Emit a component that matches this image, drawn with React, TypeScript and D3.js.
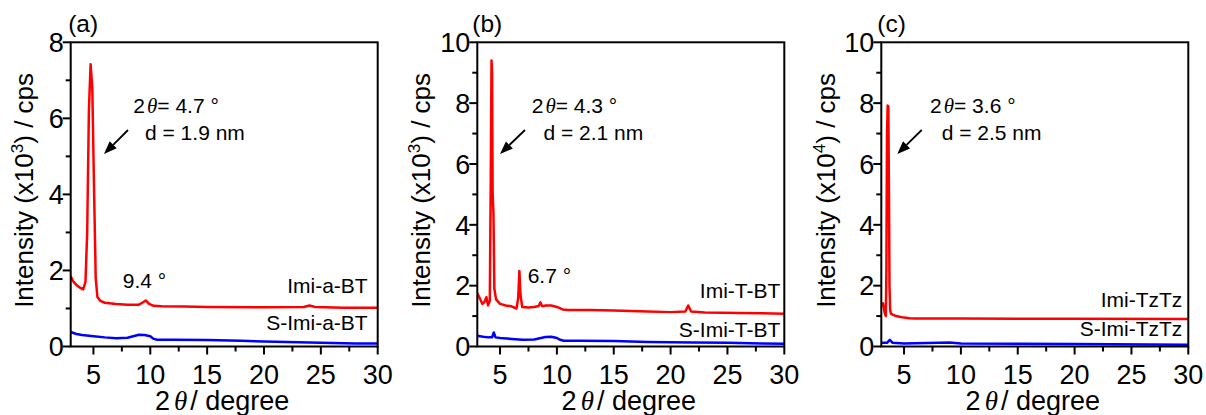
import * as d3 from "d3";
import React from "react";

const W = 1206;
const H = 415;
const TOP = 42.3;
const BOTTOM = 346.5;
const PW = 307;
const FONT = "'Liberation Sans', Arial, sans-serif";
const SERIF = "'Liberation Serif', 'Times New Roman', serif";

// 2θ values (degree) and intensities
const aImiX = [3.0, 3.2, 3.5, 3.8, 4.1, 4.3, 4.45, 4.6, 4.75, 4.9, 5.05, 5.2, 5.35, 5.6, 6.0, 7.0, 8.0, 9.0, 9.3, 9.6, 9.9, 10.3, 11, 13, 15, 20, 23.5, 24, 24.5, 27, 30];
const aImiY = [1.85, 1.72, 1.62, 1.55, 1.5, 1.7, 3.0, 6.2, 7.42, 6.8, 4.2, 1.8, 1.3, 1.2, 1.15, 1.12, 1.1, 1.1, 1.15, 1.21, 1.12, 1.07, 1.06, 1.05, 1.04, 1.03, 1.04, 1.08, 1.04, 1.02, 1.02];
const aSX = [3.0, 3.5, 4, 5, 6, 7, 8, 8.5, 9, 9.5, 10, 10.3, 10.6, 12, 15, 18, 20, 22, 25, 28, 30];
const aSY = [0.38, 0.33, 0.3, 0.27, 0.24, 0.22, 0.23, 0.27, 0.31, 0.3, 0.27, 0.2, 0.18, 0.18, 0.17, 0.15, 0.13, 0.12, 0.1, 0.08, 0.08];

const bImiX = [3.0, 3.2, 3.45, 3.6, 3.8, 3.95, 4.1, 4.18, 4.25, 4.3, 4.35, 4.42, 4.5, 4.65, 5.0, 5.5, 6.0, 6.45, 6.6, 6.7, 6.8, 6.95, 7.5, 8.0, 8.4, 8.55, 8.7, 9.0, 9.5, 10.0, 10.5, 11, 13, 15, 18, 20, 21.3, 21.55, 21.8, 23, 26, 30];
const bImiY = [1.75, 1.6, 1.4, 1.45, 1.62, 1.35, 1.5, 5.3, 9.4, 9.0, 5.0, 4.4, 1.9, 1.55, 1.4, 1.35, 1.32, 1.25, 1.6, 2.48, 1.7, 1.3, 1.28, 1.3, 1.33, 1.45, 1.32, 1.35, 1.35, 1.3, 1.22, 1.2, 1.2, 1.18, 1.15, 1.13, 1.15, 1.35, 1.15, 1.12, 1.1, 1.08];
const bSX = [3.0, 3.5, 4.0, 4.3, 4.45, 4.6, 5, 6, 7, 8, 8.5, 9, 9.5, 10, 10.3, 10.6, 12, 15, 18, 20, 22, 25, 28, 30];
const bSY = [0.35, 0.32, 0.3, 0.3, 0.46, 0.3, 0.28, 0.25, 0.22, 0.23, 0.27, 0.31, 0.32, 0.28, 0.22, 0.19, 0.19, 0.18, 0.15, 0.14, 0.13, 0.12, 0.1, 0.09];

const cImiX = [3.0, 3.15, 3.3, 3.4, 3.45, 3.5, 3.56, 3.62, 3.68, 3.72, 3.78, 3.85, 4.0, 4.3, 4.6, 5, 5.5, 6, 10, 20, 30];
const cImiY = [1.35, 1.42, 1.1, 1.0, 2.6, 6.9, 7.92, 7.9, 4.8, 2.0, 1.2, 1.08, 1.05, 1.0, 0.98, 0.95, 0.93, 0.92, 0.92, 0.91, 0.9];
const cSX = [3.0, 3.5, 3.75, 4.0, 5, 9, 10, 20, 30];
const cSY = [0.12, 0.12, 0.22, 0.12, 0.1, 0.13, 0.1, 0.08, 0.06];

const xMajor = [5, 10, 15, 20, 25, 30];
const xMinor = [7.5, 12.5, 17.5, 22.5, 27.5];

const panels = [
  {
    tag: "(a)", tagDx: -2.5, left: 70.7, yMax: 8, exp: "3", titleOff: 38,
    redX: aImiX, redY: aImiY, blueX: aSX, blueY: aSY,
    redName: "Imi-a-BT", blueName: "S-Imi-a-BT", nameDx: 10, redNameY: 293, blueNameY: 330,
    peak: "4.7", d: "1.9", annDx: 62.6, arrow: [57.3, 130, 33.3, 154],
    extra: "9.4 °", extraDx: 52, extraY: 288,
  },
  {
    tag: "(b)", tagDx: -5, left: 477.3, yMax: 10, exp: "3", titleOff: 47,
    redX: bImiX, redY: bImiY, blueX: bSX, blueY: bSY,
    redName: "Imi-T-BT", blueName: "S-Imi-T-BT", nameDx: 4, redNameY: 298, blueNameY: 337,
    peak: "4.3", d: "2.1", annDx: 54.4, arrow: [47.7, 130, 22.7, 154],
    extra: "6.7 °", extraDx: 50.4, extraY: 283,
  },
  {
    tag: "(c)", tagDx: -4, left: 881.3, yMax: 10, exp: "4", titleOff: 46,
    redX: cImiX, redY: cImiY, blueX: cSX, blueY: cSY,
    redName: "Imi-TzTz", blueName: "S-Imi-TzTz", nameDx: 6, redNameY: 307, blueNameY: 336,
    peak: "3.6", d: "2.5", annDx: 48.7, arrow: [40.4, 130, 16, 154],
    extra: "", extraDx: 0, extraY: 0,
  },
];

function Arrow({ a }: { a: number[] }) {
  const [x1, y1, x2, y2] = a;
  const ang = Math.atan2(y2 - y1, x2 - x1);
  const len = 13, half = 5;
  const bx = x2 - len * Math.cos(ang), by = y2 - len * Math.sin(ang);
  const px = -Math.sin(ang) * half, py = Math.cos(ang) * half;
  return (
    <g>
      <line x1={x1} y1={y1} x2={bx} y2={by} stroke="#000" strokeWidth={1.8} />
      <polygon points={`${x2},${y2} ${bx + px},${by + py} ${bx - px},${by - py}`} fill="#000" />
    </g>
  );
}

function Panel({ p }: { p: any }) {
  const x = d3.scaleLinear().domain([3, 30]).range([0, PW]);
  const y = d3.scaleLinear().domain([0, p.yMax]).range([BOTTOM, TOP]);
  const yMajor = d3.range(0, p.yMax + 0.1, 2);
  const yMinor = d3.range(1, p.yMax, 2);
  const path = (xs: number[], ys: number[]) =>
    d3.line<[number, number]>().x((d) => x(d[0])).y((d) => y(d[1]))(xs.map((v, i) => [v, ys[i]]))!;
  const clipId = "clip" + p.tag.replace(/\W/g, "");
  return (
    <g transform={`translate(${p.left},0)`} fontFamily={FONT} fill="#000">
      <defs>
        <clipPath id={clipId}>
          <rect x={0} y={TOP} width={PW} height={BOTTOM - TOP} />
        </clipPath>
      </defs>
      <g clipPath={`url(#${clipId})`} fill="none" strokeWidth={2.5} strokeLinejoin="round">
        <path d={path(p.blueX, p.blueY)} stroke="#0000ff" />
        <path d={path(p.redX, p.redY)} stroke="#ff0000" />
      </g>
      <rect x={0} y={TOP} width={PW} height={BOTTOM - TOP} fill="none" stroke="#000" strokeWidth={2} />
      {xMajor.map((t) => (
        <g key={"xm" + t}>
          <line x1={x(t)} x2={x(t)} y1={BOTTOM} y2={BOTTOM + 8} stroke="#000" strokeWidth={2} />
          <text x={x(t)} y={BOTTOM + 37.5} fontSize={27} textAnchor="middle">{t}</text>
        </g>
      ))}
      {xMinor.map((t) => (
        <line key={"xn" + t} x1={x(t)} x2={x(t)} y1={BOTTOM} y2={BOTTOM + 5} stroke="#000" strokeWidth={2} />
      ))}
      {yMajor.map((t) => (
        <g key={"ym" + t}>
          <line x1={-8} x2={0} y1={y(t)} y2={y(t)} stroke="#000" strokeWidth={2} />
          <text x={-7} y={y(t)} dy="0.36em" fontSize={27} textAnchor="end">{t}</text>
        </g>
      ))}
      {yMinor.map((t) => (
        <line key={"yn" + t} x1={-5} x2={0} y1={y(t)} y2={y(t)} stroke="#000" strokeWidth={2} />
      ))}
      <text x={p.tagDx} y={31.5} fontSize={24.5}>{p.tag}</text>
      <text x={PW / 2 - 2} y={410} fontSize={27} textAnchor="middle">
        2<tspan dx={4} fontFamily={SERIF} fontStyle="italic">θ</tspan><tspan dx={3}>/ degree</tspan>
      </text>
      <text transform={`translate(${-p.titleOff},${(TOP + BOTTOM) / 2 - 4}) rotate(-90)`} fontSize={26} textAnchor="middle">
        Intensity (x10<tspan dy={-10} fontSize={17}>{p.exp}</tspan><tspan dy={10}>) / cps</tspan>
      </text>
      <text x={p.annDx} y={113} fontSize={21}>
        2<tspan dx={2} fontFamily={SERIF} fontStyle="italic">θ</tspan>= {p.peak} °
      </text>
      <text x={p.annDx + 11.7} y={140} fontSize={21}>d = {p.d} nm</text>
      <Arrow a={p.arrow} />
      {p.extra && <text x={p.extraDx} y={p.extraY} fontSize={21}>{p.extra}</text>}
      <text x={PW - p.nameDx} y={p.redNameY} fontSize={21} textAnchor="end">{p.redName}</text>
      <text x={PW - p.nameDx} y={p.blueNameY} fontSize={21} textAnchor="end">{p.blueName}</text>
    </g>
  );
}

export default function App() {
  return (
    <svg width={W} height={H} style={{ position: "absolute", left: 0, top: 0, background: "#fff" }}>
      <rect width={W} height={H} fill="#fff" />
      {panels.map((p) => (
        <Panel key={p.tag} p={p} />
      ))}
    </svg>
  );
}
